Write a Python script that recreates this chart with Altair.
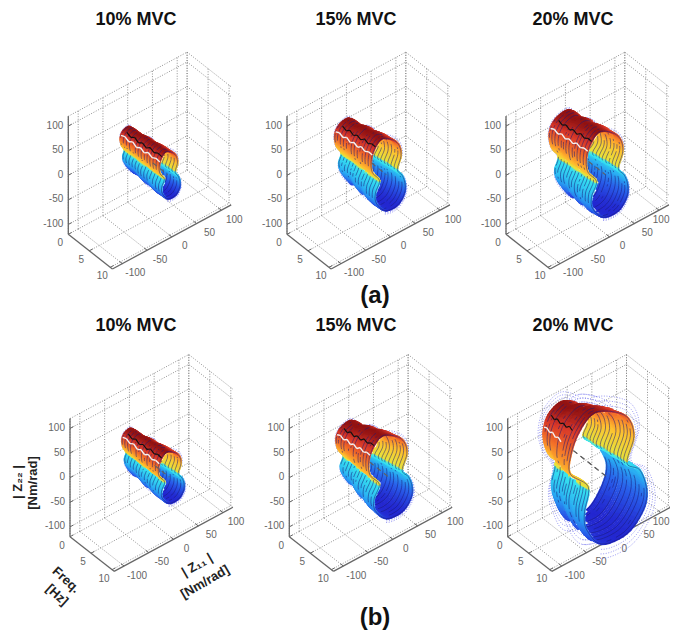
import altair as alt
import numpy as np
import pandas as pd

alt.data_transformers.disable_max_rows()

# ---- chart text ----
titles = ["10% MVC", "15% MVC", "20% MVC", "10% MVC", "15% MVC", "20% MVC"]
title_x = [136, 356, 573, 136, 356, 573]
title_y = [20, 20, 20, 326, 326, 326]

# ---- projected box: where each panel's (freq 0, Z11 -120, Z22 -120) corner sits ----
origin_x = [68.3, 287.0, 506.0, 70.0, 289.3, 507.7]
origin_y = [234.3, 234.3, 234.3, 536.7, 536.7, 536.7]
F_X, F_Y, A_X, A_Y, Z_Y = 4.2, 3.3, 0.495, 0.267, 0.492
F_MAX, LIM = 10.5, 120
z_ticks = [-100, -50, 0, 50, 100]
a_ticks = [-100, -50, 0, 50, 100]
f_ticks = [0, 5, 10]

# ---- impedance loop read at 0 Hz and 10 Hz: 20% MVC (a) ----
med_back_a = [22, 33, 30, 19, 4, -21, -32, -28, -14, -21, -14, 9, 26, 36, 40, 33]
med_back_z = [-13, -4, 21, 47, 65, 59, 38, 8, -20, -43, -70, -107, -102, -81, -56, -32]
med_front_a = [22, 31, 27, 12, -15, -32, -42, -40, -22, -32, -30, -8, 22, 39, 41, 34]
med_front_z = [4, 33, 59, 81, 99, 88, 63, 31, 1, -24, -49, -79, -82, -63, -40, -16]

# ---- impedance loop read at 0 Hz and 10 Hz: 20% MVC (b) ----
big_back_a = [33, 41, 36, 19, -11, -38, -48, -41, -24, -31, -24, -4, 40, 70, 80, 60]
big_back_z = [0, 23, 49, 72, 95, 83, 51, 13, -23, -60, -97, -139, -152, -121, -80, -31]
big_front_a = [36, 50, 39, 9, -32, -62, -78, -78, -42, -50, -45, -15, 36, 69, 76, 62]
big_front_z = [12, 58, 101, 131, 150, 126, 87, 51, 6, -43, -80, -125, -131, -101, -64, -16]

# size of each panel's loops relative to 20% MVC (a): back Z11, back Z22, front Z11, front Z22
size_back_a = [0.45, 0.72, 1.0, 0.45, 0.78, 1.0]
size_back_z = [0.50, 0.75, 1.0, 0.52, 0.75, 1.0]
size_front_a = [0.50, 0.82, 1.0, 0.62, 1.05, 1.0]
size_front_z = [0.55, 0.84, 1.0, 0.60, 0.97, 1.0]

# how much the loop swells at 0..10 Hz (relative), ridge wobble in Z22 along frequency,
# and extents of ridges and centre axis
loop_swell = [0, 0.03, 0, -0.03, 0.02, 0.04, -0.01, 0.03, 0.04, 0.01, 0]
ridge_wobble = [0, 3, -2, 3, -3, 2, -3, 3, -2, 2, 0]
white_range = [(0, 10), (0, 10), (0, 10), (0, 10), (0, 10), (0, 6)]
black_range = [(0.5, 10), (0.5, 10), (0.5, 10), (0.5, 10), (0.5, 10), (1, 8)]
axis_range = [(6, 9.5), (6, 9.5), (5.5, 9.5), (6, 9.5), (5, 9.5), (1.5, 9.5)]
halo_sizes = [[1.08, 1.13], [1.06, 1.1], [1.05, 1.08], [1.08, 1.13], [1.06, 1.1], [1.08, 1.15, 1.22]]

color_stops = [-1, -0.7, -0.4, -0.02, 0.02, 0.3, 0.6, 0.85, 1]
color_range = ["#2428d0", "#2a60ea", "#2aa8f2", "#38e8f0", "#e6e23c",
               "#ffc030", "#f4742a", "#d8382a", "#921414"]

N_SLICES, SUB, DARK_EVERY = 39, 6, 3


def project(p, f, a, z):
    u = np.asarray(a, float) + LIM
    w = np.asarray(z, float) + LIM
    return (origin_x[p] + F_X * np.asarray(f, float) + A_X * u,
            origin_y[p] + F_Y * np.asarray(f, float) - A_Y * u - Z_Y * w)


def smooth(ctrl):
    c = np.asarray(ctrl, float)
    n = len(c)
    out = []
    for i in range(n):
        p0, p1, p2, p3 = c[(i - 1) % n], c[i], c[(i + 1) % n], c[(i + 2) % n]
        for j in range(SUB):
            s = j / SUB
            out.append(0.5 * (2 * p1 + (p2 - p0) * s + (2 * p0 - 5 * p1 + 4 * p2 - p3) * s ** 2
                              + (3 * p1 - p0 - 3 * p2 + p3) * s ** 3))
    return np.array(out)


grid_rows, axis_rows, tick_rows, label_rows = [], [], [], []
surface_rows, dark_rows, halo_rows = [], [], []
white_rows, black_rows, centre_rows = [], [], []


def seg(rows, p, f1, a1, z1, f2, a2, z2):
    x1, y1 = project(p, f1, a1, z1)
    x2, y2 = project(p, f2, a2, z2)
    rows.append(dict(x=float(x1), y=float(y1), x2=float(x2), y2=float(y2)))


for p in range(6):
    L = LIM
    for a in [-L] + a_ticks + [L]:
        seg(grid_rows, p, 0, a, -L, 0, a, L)
    for z in z_ticks + [L]:
        seg(grid_rows, p, 0, -L, z, 0, L, z)
        seg(grid_rows, p, 0, L, z, F_MAX, L, z)
    for f in f_ticks:
        seg(grid_rows, p, f, L, -L, f, L, L)
        seg(grid_rows, p, f, -L, -L, f, L, -L)
    for a in a_ticks + [L]:
        seg(grid_rows, p, 0, a, -L, F_MAX, a, -L)
    seg(axis_rows, p, 0, -L, -L, 0, -L, L)
    seg(axis_rows, p, 0, -L, -L, F_MAX, -L, -L)
    seg(axis_rows, p, F_MAX, -L, -L, F_MAX, L, -L)
    for z in z_ticks:
        seg(tick_rows, p, 0, -L, z, 0, -L + 7, z)
        x, y = project(p, 0, -L, z)
        label_rows.append(dict(x=float(x) - 5, y=float(y) - 0.5, t=str(z), al="right"))
    for f in f_ticks:
        seg(tick_rows, p, f, -L, -L, f, -L + 7, -L)
        x, y = project(p, f, -L, -L)
        label_rows.append(dict(x=float(x) - 8, y=float(y) + 9, t=str(f), al="center"))
    for a in a_ticks:
        seg(tick_rows, p, F_MAX, a, -L, F_MAX - 0.7, a, -L)
        x, y = project(p, F_MAX, a, -L)
        if float(x) + 21 > 670:
            # the page ends here: keep the whole label inside it
            label_rows.append(dict(x=669.5, y=float(y) + 9.5, t=str(a), al="right"))
        else:
            label_rows.append(dict(x=float(x) + 13, y=float(y) + 9.5, t=str(a), al="center"))

    # loops of the panel
    if p == 5:
        ba, bz, fa, fz = big_back_a, big_back_z, big_front_a, big_front_z
    else:
        ba = np.array(med_back_a) * size_back_a[p]
        bz = np.array(med_back_z) * size_back_z[p]
        fa = np.array(med_front_a) * size_front_a[p]
        fz = np.array(med_front_z) * size_front_z[p]
    back = smooth(np.column_stack([ba, bz]))
    front = smooth(np.column_stack([fa, fz]))
    M = len(back)

    # dotted confidence outlines (outer parts of first, middle and last loops)
    gid = 0
    for size in halo_sizes[p]:
        for frac, lo, hi in [(0.0, 3.0, 12.0), (0.5, 3.0, 12.0), (0.5, 11.0, 20.0), (1.0, 11.0, 20.0)]:
            cur = back * (1 - frac) + front * frac
            idx = [int(i * SUB) % M for i in np.arange(lo, hi + 1e-6, 1 / SUB)]
            xs, ys = project(p, 10 * frac, cur[idx, 0] * size, cur[idx, 1] * size)
            for s, (xv, yv) in enumerate(zip(xs, ys)):
                halo_rows.append(dict(x=float(xv), y=float(yv), g=f"{p}-{gid}", s=s))
            gid += 1

    # swept surface, back to front
    cover = np.full((660, 700), -1, dtype=int)
    strokes = []
    swell_f = np.linspace(0, 10, len(loop_swell))
    for k in range(N_SLICES + 1):
        frac = k / N_SLICES
        f = 10 * frac
        cur = (back * (1 - frac) + front * frac) * (1 + np.interp(f, swell_f, loop_swell))
        zR, zL = cur[0, 1], cur[8 * SUB, 1]
        par = np.arange(M) / SUB
        zp = np.where(par <= 8, zR + (zL - zR) * par / 8, zL + (zR - zL) * (par - 8) / 8)
        rise = cur[:, 1] - zp
        top = max(rise[: 8 * SUB].max(), 1)
        bot = max((-rise[8 * SUB:]).max(), 1)
        zn = np.where(par <= 8, np.clip(rise / top, 0.02, 1), -np.clip(-rise / bot, 0.02, 1))
        xs, ys = project(p, f, cur[:, 0], cur[:, 1])
        for i in range(M):
            j = (i + 1) % M
            strokes.append((k, float(xs[i]), float(ys[i]), float(xs[j]), float(ys[j]), float(zn[i])))
            for s in np.linspace(0, 1, 5):
                xp = int(round(xs[i] + (xs[j] - xs[i]) * s))
                yp = int(round(ys[i] + (ys[j] - ys[i]) * s))
                cover[yp - 1:yp + 2, xp - 1:xp + 2] = k

    for k, x1, y1, x2, y2, zn in strokes:
        xm, ym = int(round((x1 + x2) / 2)), int(round((y1 + y2) / 2))
        if cover[ym, xm] <= k + 5:
            surface_rows.append(dict(x=round(x1, 1), y=round(y1, 1), x2=round(x2, 1),
                                     y2=round(y2, 1), zn=round(zn, 2)))
        if k % DARK_EVERY == 0 and cover[ym, xm] <= k + 1:
            dark_rows.append(dict(x=round(x1, 1), y=round(y1, 1), x2=round(x2, 1), y2=round(y2, 1)))

    # ridge lines and centre axis
    w_f = np.linspace(0, 10, len(ridge_wobble))
    for t, rng, rows in [(5.7, white_range[p], white_rows), (5.0, black_range[p], black_rows)]:
        i = int(t * SUB)
        for s in range(len(w_f) - 1):
            f1, f2 = w_f[s], w_f[s + 1]
            if f1 < rng[0] or f2 > rng[1]:
                continue
            c1 = back[i] * (1 - f1 / 10) + front[i] * f1 / 10
            c2 = back[i] * (1 - f2 / 10) + front[i] * f2 / 10
            seg(rows, p, f1, c1[0], c1[1] + ridge_wobble[s], f2, c2[0], c2[1] + ridge_wobble[s + 1])
    seg(centre_rows, p, axis_range[p][0], 0, 0, axis_range[p][1], 0, 0)

X = alt.X("x:Q", axis=None, scale=alt.Scale(domain=[8, 670], nice=False, zero=False))
Y = alt.Y("y:Q", axis=None, scale=alt.Scale(domain=[631, 8], nice=False, zero=False))
X2, Y2 = alt.X2("x2"), alt.Y2("y2")


def rules(rows, **kw):
    return alt.Chart(pd.DataFrame(rows)).mark_rule(**kw).encode(x=X, y=Y, x2=X2, y2=Y2)


def texts(rows, angle=0, **kw):
    return alt.Chart(pd.DataFrame(rows)).mark_text(angle=angle, font="Liberation Sans", **kw).encode(
        x=X, y=Y, text="t:N")


grid = rules(grid_rows, color="#858585", strokeWidth=0.9, strokeDash=[1, 1.6])
axes_l = rules(axis_rows, color="#666666", strokeWidth=1.3)
ticks_l = rules(tick_rows, color="#666666", strokeWidth=1)
halo = alt.Chart(pd.DataFrame(halo_rows)).mark_line(
    color="#6c6cec", strokeWidth=0.7, strokeDash=[1, 1.6]).encode(
    x=X, y=Y, detail="g:N", order="s:Q")
surface = rules(surface_rows, strokeWidth=2.1, strokeCap="round").encode(
    color=alt.Color("zn:Q", legend=None,
                    scale=alt.Scale(domain=color_stops, range=color_range, interpolate="rgb")))
dark = rules(dark_rows, color="#1a1a78", strokeWidth=0.8, opacity=0.65)
centre = rules(centre_rows, color="#606060", strokeWidth=1.1, strokeDash=[5, 4])
black_r = rules(black_rows, color="#111111", strokeWidth=1.2)
white_r = rules(white_rows, color="#f4f4f4", strokeWidth=1.4)

lab_df = pd.DataFrame(label_rows)
tick_text = [texts(lab_df[lab_df.al == al].to_dict("records"), align=al, baseline="middle",
                   fontSize=10, color="#666666") for al in ["right", "center"]]

title_text = texts([dict(x=x, y=y, t=t) for x, y, t in zip(title_x, title_y, titles)],
                   fontSize=18, fontWeight="bold", color="#111111", align="center", baseline="middle")
letters = texts([dict(x=375, y=296, t="(a)"), dict(x=375, y=618, t="(b)")],
                fontSize=24, fontWeight="bold", color="#111111", align="center", baseline="middle")
bold = dict(fontSize=13, fontWeight="bold", color="#222222", align="center", baseline="middle")
lab_z = texts([dict(x=18, y=482, t="| Z₂₂ |"), dict(x=33, y=483, t="[Nm/rad]")], angle=270, **bold)
lab_f = texts([dict(x=66, y=580, t="Freq."), dict(x=57, y=595, t="[Hz]")], angle=42, **bold)
lab_a = texts([dict(x=197, y=565, t="| Z₁₁ |"), dict(x=205, y=582, t="[Nm/rad]")], angle=330, **bold)

chart = alt.layer(grid, axes_l, ticks_l, *tick_text, halo, centre, surface, dark, centre,
                  black_r, white_r, title_text, letters, lab_z, lab_f, lab_a).properties(
    width=662, height=623, padding=0, autosize=alt.AutoSizeParams(type="none")
).configure_view(stroke=None)

chart.save("out.html", embed_options={"renderer": "svg", "actions": False})
